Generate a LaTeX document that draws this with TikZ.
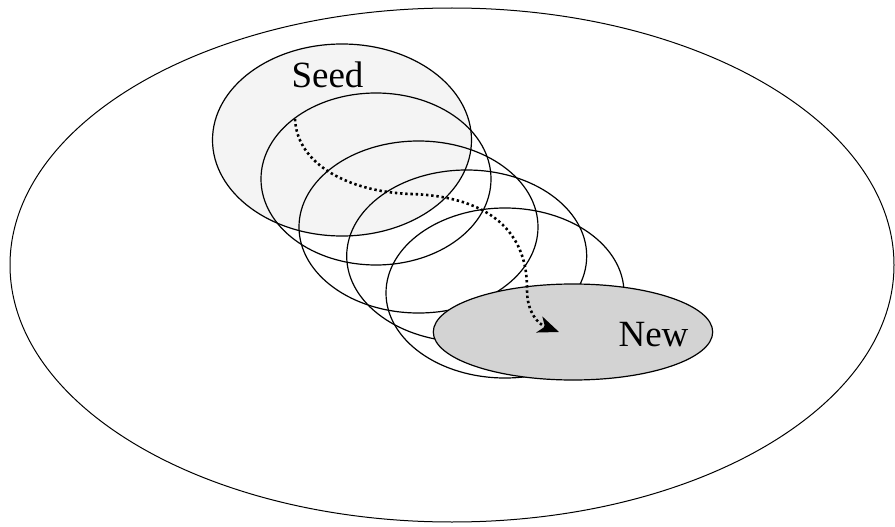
\documentclass[tikz,border=0pt]{standalone}
\usepackage{fontspec}
\setmainfont{Liberation Serif}
\usetikzlibrary{arrows.meta}
\definecolor{seedgray}{HTML}{F4F4F4}
\definecolor{newgray}{HTML}{D3D3D3}
\begin{document}
\begin{tikzpicture}[x=1pt,y=-1pt,
  outline/.style={draw=black, line width=1.2pt},
  lbl/.style={font=\fontsize{37}{40}\selectfont, inner sep=0pt, anchor=base},
  walk/.style={line width=2.6pt, dash pattern=on 2.4pt off 2.8pt, -{Stealth[length=21pt,width=17pt,inset=6pt]}}]
\useasboundingbox (0,0) rectangle (895,527);
\draw[outline, line width=1pt] (452,265) ellipse [x radius=442pt, y radius=257pt];
\draw[outline, fill=seedgray] (342,140) ellipse [x radius=129.5pt, y radius=96pt];
\draw[outline] (376,179) ellipse [x radius=115pt, y radius=86pt];
\draw[outline] (418.5,227) ellipse [x radius=119.5pt, y radius=86pt];
\draw[outline] (466.7,256) ellipse [x radius=120pt, y radius=86pt];
\draw[outline] (505,293) ellipse [x radius=119pt, y radius=85pt];
\draw[outline, fill=newgray] (573,332) ellipse [x radius=139.7pt, y radius=48pt];
\node[lbl] (seed) at (327.5,88) {Seed};
\node[lbl] (new) at (653.5,346) {New};
\coordinate (s) at (295,119);
\coordinate (m1) at (411,194);
\coordinate (m2) at (527,290);
\coordinate (t) at (559,332);
\draw[walk] (s) .. controls (297,165) and (350,192) .. (m1)
  .. controls (480,196) and (528,225) .. (m2)
  .. controls (527,312) and (538,324) .. (t);
\end{tikzpicture}
\end{document}
